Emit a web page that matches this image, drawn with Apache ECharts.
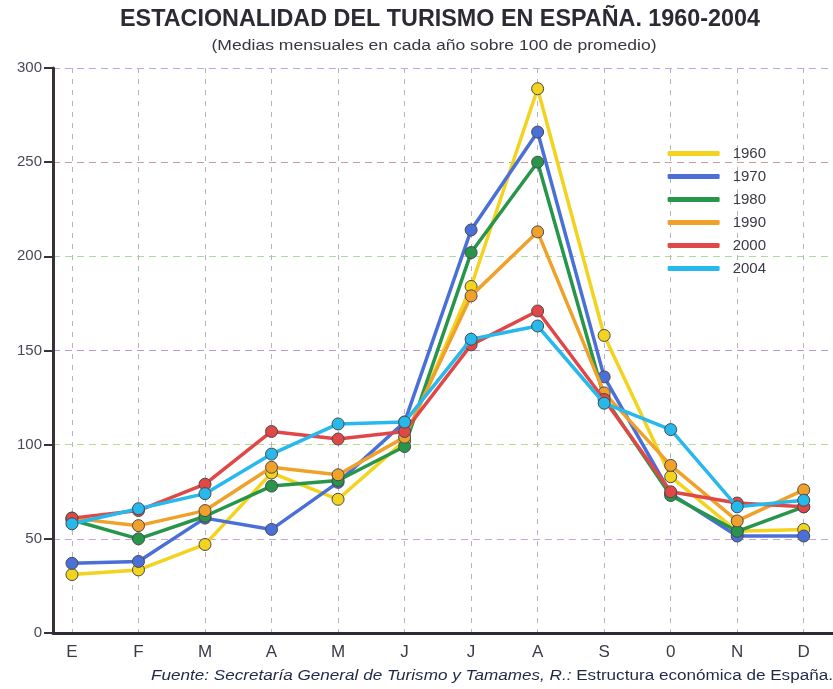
<!DOCTYPE html>
<html><head><meta charset="utf-8">
<script src="https://cdn.jsdelivr.net/npm/echarts@6/dist/echarts.min.js"></script>
<style>html,body{margin:0;padding:0;background:#fff}#c{width:833px;height:689px}</style>
</head><body><div id="c"></div>
<script>
var months = ['E','F','M','A','M','J','J','A','S','0','N','D'];
var yTicks = [0,50,100,150,200,250,300];
var years = ['1960','1970','1980','1990','2000','2004'];
var v1960 = [31,33.5,47,85,71,102,184,289,158,83,54,55];
var v1970 = [37,38,61,55,80,112,214,266,136,74,51.5,51.5];
var v1980 = [60,50,62,78,81,99,202,250,125,73,54,67];
var v1990 = [61,57,65,88,84,104,179,213,127.5,89,59.5,76];
var v2000 = [61,65,79,107,103,107,153,171,124,75,69,67];
var v2004 = [58,66,74,95,111,112,156,163,122,108,67,70.5];
var values = [v1960,v1970,v1980,v1990,v2000,v2004];
var colors = ['#f2d31e','#4a6fd6','#27964a','#f0a12a','#e04848','#27b8ec'];

var titleText = 'ESTACIONALIDAD DEL TURISMO EN ESPAÑA. 1960-2004';
var subText = '(Medias mensuales en cada año sobre 100 de promedio)';
var srcItalic = 'Fuente: Secretaría General de Turismo y Tamames, R.:';
var srcNormal = ' Estructura económica de España.';

var cv = document.createElement('canvas').getContext('2d');
function measure(font, t){ cv.font = font; return cv.measureText(t).width; }
var tFont = 'bold 24px "Liberation Sans"';
var tScale = 640 / measure(tFont, titleText);
var sFont = '14px "Liberation Sans"';
var sScale = 445 / measure(sFont, subText);
var fScale = 682 / (measure('italic 14px "Liberation Sans"', srcItalic) + measure('14px "Liberation Sans"', srcNormal));

var idx = months.map(function(m,i){return i;});
var series = years.map(function(y,k){
  return {
    name: y, type: 'line',
    data: values[k].map(function(v,i){return [i,v];}),
    symbol: 'circle', symbolSize: 12,
    lineStyle: {color: colors[k], width: 3.5},
    itemStyle: {color: colors[k], borderColor: '#4a4a4a', borderWidth: 1},
    z: 3 + k
  };
});

var chart = echarts.init(document.getElementById('c'));
chart.setOption({
  animation: false,
  backgroundColor: '#ffffff',
  legend: {
    orient: 'vertical', right: 62, top: 141, itemGap: 8,
    icon: 'roundRect', itemWidth: 52, itemHeight: 5,
    itemStyle: {borderWidth: 0},
    textStyle: {fontFamily: 'Liberation Sans', fontSize: 15, color: '#3a3a44', padding: [0,0,0,8]},
    data: years
  },
  graphic: [
    {type: 'text', x: 440, y: 19, scaleX: tScale,
      style: {text: titleText, font: tFont, fill: '#2e2a33', textAlign: 'center', textVerticalAlign: 'middle'}},
    {type: 'text', x: 434, y: 46, scaleX: sScale,
      style: {text: subText, font: sFont, fill: '#3a3640', textAlign: 'center', textVerticalAlign: 'middle'}},
    {type: 'text', x: 151, y: 676, scaleX: fScale,
      style: {
        text: '{i|' + srcItalic + '}{n|' + srcNormal + '}', textVerticalAlign: 'middle',
        rich: {
          i: {fontFamily: 'Liberation Sans', fontStyle: 'italic', fontSize: 14, fill: '#1f2a48'},
          n: {fontFamily: 'Liberation Sans', fontSize: 14, fill: '#1f2a48'}
        }
      }}
  ],
  grid: {left: 53, right: 0, top: 68, bottom: 56},
  xAxis: {
    type: 'value', min: -0.285, max: 11.44,
    axisLine: {show: true, onZero: false, lineStyle: {color: '#2f2a33', width: 3}},
    axisTick: {show: true, customValues: idx, length: 0},
    axisLabel: {customValues: idx, margin: 11, fontFamily: 'Liberation Sans', fontSize: 17, color: '#3c3a46',
      formatter: function(v){return months[Math.round(v)];}},
    splitLine: {show: true, lineStyle: {type: [5,6], color: '#bcb0c4', width: 1}}
  },
  yAxis: {
    type: 'value', min: 0, max: 300, interval: 50,
    axisLine: {show: true, onZero: false, lineStyle: {color: '#3a3038', width: 3}},
    axisTick: {show: true, length: 9, lineStyle: {color: '#3a3038', width: 2}},
    axisLabel: {margin: 11, fontFamily: 'Liberation Sans', fontSize: 15, color: '#4a4858',
      formatter: function(v){return yTicks.indexOf(v) >= 0 ? String(v) : '';}},
    splitLine: {show: true, lineStyle: {type: [7,5], width: 1,
      color: ['#e6d24a','#c9a2dc','#b8dc8c','#b89ad0','#a4dca4','#c99c9c','#c4a4e6']}}
  },
  series: series
});
</script>
</body></html>
